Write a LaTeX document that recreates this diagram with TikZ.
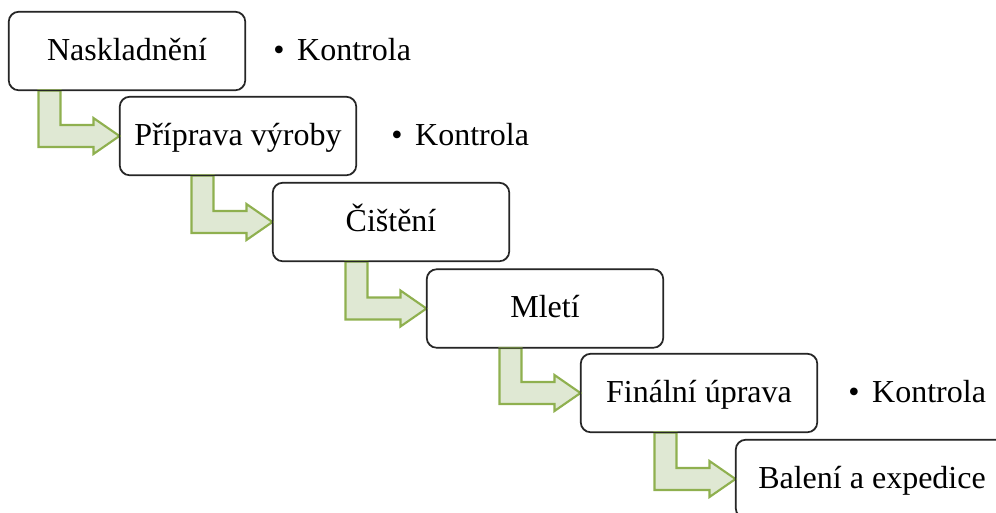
\documentclass[tikz,border=0pt]{standalone}
\usepackage{fontspec}
\setmainfont{Liberation Serif}
\usetikzlibrary{calc}

\definecolor{arrowfill}{HTML}{DFE8D3}
\definecolor{arrowline}{HTML}{8FB04F}

\tikzset{
  stagebox/.style={draw=black!85, line width=0.8pt, fill=white,
    rounded corners=7.5pt, minimum width=177pt, minimum height=58.5pt,
    inner sep=0pt, font=\fontsize{24}{28}\selectfont,
    text height=18pt, text depth=4.5pt},
  checknote/.style={anchor=west, inner sep=0pt,
    font=\fontsize{24}{28}\selectfont, text height=18pt, text depth=4.5pt},
  flow/.style={draw=arrowline, fill=arrowfill, line width=1.6pt, line join=miter}
}

% bent block arrow from the bottom of one stage to the left side of the next
\newcommand{\steparrow}[2]{%
  \draw[flow] let \p1=(#2.west), \p2=(#1.south) in
    (\x1-60.75pt,\y2) -- (\x1-60.75pt,\y1-8.25pt) -- (\x1-19.5pt,\y1-8.25pt)
    -- (\x1-19.5pt,\y1-13.5pt) -- (\x1,\y1) -- (\x1-19.5pt,\y1+13.5pt)
    -- (\x1-19.5pt,\y1+8.25pt) -- (\x1-44.25pt,\y1+8.25pt) -- (\x1-44.25pt,\y2)
    -- cycle;}

\begin{document}
\begin{tikzpicture}[x=0.75pt,y=-0.75pt]
  \useasboundingbox (0,0) rectangle (996,512);
  \clip (0,0) rectangle (996,512);

  % stages
  \node[stagebox] (s1) at (127,51)    {Naskladnění};
  \node[stagebox] (s2) at (238,136)   {Příprava výroby};
  \node[stagebox] (s3) at (391,222)   {Čištění};
  \node[stagebox] (s4) at (545,308.5) {Mletí};
  \node[stagebox] (s5) at (699,393)   {Finální úprava};
  \node[stagebox, minimum width=204pt] (s6) at (872,479) {Balení a expedice};

  % connectors
  \steparrow{s1}{s2}
  \steparrow{s2}{s3}
  \steparrow{s3}{s4}
  \steparrow{s4}{s5}
  \steparrow{s5}{s6}

  % redraw the box outlines on top of the arrow stems
  \foreach \n in {s1,s2,s3,s4,s5,s6}
    \draw[draw=black!85, line width=0.8pt, rounded corners=7.5pt]
      (\n.south west) rectangle (\n.north east);

  % control notes
  \node[checknote] (k1) at (273,51)  {\textbullet\hspace{0.4em}Kontrola};
  \node[checknote] (k2) at (391,136) {\textbullet\hspace{0.4em}Kontrola};
  \node[checknote] (k5) at (848,393) {\textbullet\hspace{0.4em}Kontrola};
\end{tikzpicture}
\end{document}
